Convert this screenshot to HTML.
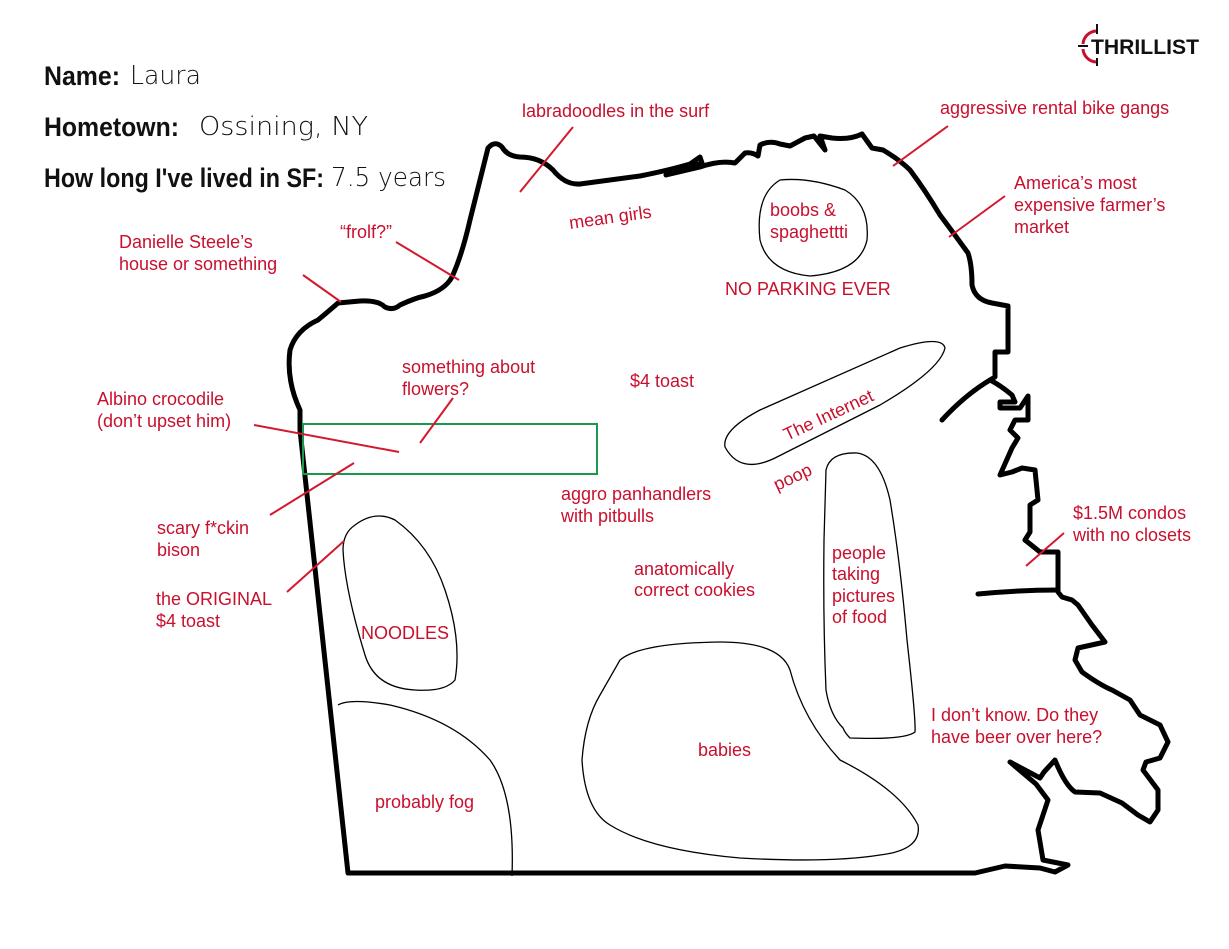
<!DOCTYPE html>
<html><head><meta charset="utf-8"><style>
html,body{margin:0;padding:0;background:#fff;}
svg{display:block}
.r{fill:#c8102e;font-family:"Liberation Sans",Arial,sans-serif;font-size:18px;}
.h{font-family:"Liberation Sans Narrow","Liberation Sans",sans-serif;font-weight:bold;font-size:27px;fill:#111;}
.v{font-family:"DejaVu Sans","Liberation Sans",sans-serif;font-size:26px;fill:#111;font-weight:200;}
.rl{stroke:#d4182e;stroke-width:2;fill:none}
.b{stroke:#000;stroke-width:1.3;fill:none}
</style></head><body>
<svg width="1229" height="949" viewBox="0 0 1229 949" xmlns="http://www.w3.org/2000/svg">
<rect width="1229" height="949" fill="#fff"/>
<!-- header -->
<text x="44" y="85" class="h" textLength="76" lengthAdjust="spacingAndGlyphs">Name:</text><text x="130" y="84" class="v" textLength="71" lengthAdjust="spacingAndGlyphs">Laura</text>
<text x="44" y="136" class="h" textLength="135" lengthAdjust="spacingAndGlyphs">Hometown:</text><text x="199" y="135" class="v" textLength="169" lengthAdjust="spacingAndGlyphs">Ossining, NY</text>
<text x="44" y="187" class="h" textLength="280" lengthAdjust="spacingAndGlyphs">How long I've lived in SF:</text><text x="331" y="186" class="v" textLength="115" lengthAdjust="spacingAndGlyphs">7.5 years</text>
<!-- logo -->
<g>
<path d="M1096,31 A14,14 0 0 0 1083,44" stroke="#c8102e" stroke-width="3" fill="none"/>
<path d="M1083,49 A14,14 0 0 0 1096,62" stroke="#c8102e" stroke-width="3" fill="none"/>
<line x1="1097" y1="24" x2="1097" y2="34" stroke="#111" stroke-width="2"/>
<line x1="1097" y1="58" x2="1097" y2="66" stroke="#111" stroke-width="2"/>
<line x1="1078" y1="46" x2="1088" y2="46" stroke="#111" stroke-width="2"/>
<text x="1091" y="54" font-family="Liberation Sans,Arial,sans-serif" font-weight="bold" font-size="21" fill="#111" textLength="108" lengthAdjust="spacingAndGlyphs">THRILLIST</text>
</g>
<!-- outline -->
<path fill="none" stroke="#000" stroke-width="5" stroke-linejoin="round" stroke-linecap="round" d="
M348,873 L300,430 L300,410 Q286,380 290,350 Q296,330 318,320 Q330,310 338,303 L360,301 Q378,300 385,307 Q393,311 400,305 Q415,298 425,296 Q445,290 452,277 Q462,255 470,220 Q480,180 488,148 Q495,140 502,147 Q507,156 520,157 Q540,157 553,170 Q565,185 580,184 L640,176 Q670,170 690,164 L700,157 L702,163 L666,175 L700,167 Q720,160 735,163 L745,153 Q752,152 758,156 L760,145 Q770,140 780,144 L790,146 L805,138 L814,136 L825,150 L820,136 L832,138 Q850,140 862,134 L872,148 L883,150 Q900,160 910,170 Q925,190 940,215 Q955,235 968,253 Q972,265 972,285 Q975,300 992,303 L1008,306 L1008,345 L1008,352 L995,352 L995,377 L990,380 Q1000,385 1012,395 L1015,402 L1000,402 L1000,408 L1020,408 L1028,396 L1028,420 L1015,420 L1010,430 L1018,438 L1012,448 L1000,475 L1012,472 L1022,468 L1035,470 L1038,500 L1030,505 L1030,532 L1025,540 L1040,552 L1058,552 L1058,592 L1062,597 L1072,600 L1078,605 L1092,625 L1105,642 L1078,648 L1075,660 L1082,672 Q1100,685 1112,690 L1130,700 L1140,715 L1160,725 L1168,742 L1160,758 L1146,762 L1143,770 L1158,790 L1158,810 L1150,822 L1138,815 L1122,803 L1100,793 L1075,792 Q1065,785 1055,760 L1044,772 L1040,778 L1010,762 L1036,784 L1048,800 L1038,830 L1043,860 L1068,865 L1055,872 L1040,868 L1005,866 L975,873 Z"/>
<path d="M942,420 Q965,395 990,380" stroke="#000" stroke-width="5" fill="none" stroke-linecap="round"/>
<path d="M978,594 Q1020,590 1058,590" stroke="#000" stroke-width="5" fill="none" stroke-linecap="round"/>
<!-- blobs -->
<path class="b" d="M780,180 Q810,177 845,190 Q870,205 867,240 Q860,272 810,276 Q768,272 760,240 Q755,195 780,180 Z"/>
<path class="b" d="M725,447 Q722,430 760,410 L900,348 Q942,335 945,348 Q940,370 880,405 L775,458 Q740,475 725,447 Z"/>
<path class="b" d="M826,470 Q830,452 857,453 Q880,456 890,500 Q900,560 907,640 Q916,720 915,732 Q905,740 850,738 Q845,733 843,728 Q830,715 826,690 Q823,620 824,540 Z"/>
<path class="b" d="M355,525 Q375,510 395,520 Q430,545 445,590 Q462,640 455,680 Q445,692 415,690 Q375,688 365,655 Q345,590 343,550 Q343,533 355,525 Z"/>
<path class="b" d="M338,705 Q350,698 390,705 Q455,720 490,760 Q515,795 512,876"/>
<path class="b" d="M620,660 Q640,643 720,642 Q780,642 790,670 Q803,720 840,760 Q900,790 918,825 Q922,850 880,855 Q830,863 740,858 Q650,850 610,825 Q585,810 582,760 Q585,720 600,695 Z"/>
<rect x="303" y="424" width="294" height="50" fill="none" stroke="#1a9850" stroke-width="2"/>
<!-- red lines -->
<line class="rl" x1="573" y1="127" x2="520" y2="192"/>
<line class="rl" x1="948" y1="126" x2="893" y2="166"/>
<line class="rl" x1="1005" y1="196" x2="949" y2="237"/>
<line class="rl" x1="396" y1="242" x2="459" y2="280"/>
<line class="rl" x1="303" y1="275" x2="341" y2="302"/>
<line class="rl" x1="453" y1="398" x2="420" y2="443"/>
<line class="rl" x1="254" y1="425" x2="399" y2="452"/>
<line class="rl" x1="270" y1="515" x2="354" y2="463"/>
<line class="rl" x1="287" y1="592" x2="344" y2="541"/>
<line class="rl" x1="1064" y1="533" x2="1026" y2="566"/>
<!-- labels -->
<text class="r" x="522" y="117">labradoodles in the surf</text>
<text class="r" x="940" y="114">aggressive rental bike gangs</text>
<text class="r" x="1014" y="189">America’s most</text>
<text class="r" x="1014" y="211">expensive farmer’s</text>
<text class="r" x="1014" y="233">market</text>
<text class="r" x="570" y="229" transform="rotate(-8 570 229)">mean girls</text>
<text class="r" x="770" y="216">boobs &amp;</text>
<text class="r" x="770" y="238">spaghettti</text>
<text class="r" x="725" y="295">NO PARKING EVER</text>
<text class="r" x="340" y="238">“frolf?”</text>
<text class="r" x="119" y="248">Danielle Steele’s</text>
<text class="r" x="119" y="270">house or something</text>
<text class="r" x="402" y="373">something about</text>
<text class="r" x="402" y="395">flowers?</text>
<text class="r" x="630" y="387">$4 toast</text>
<text class="r" x="97" y="405">Albino crocodile</text>
<text class="r" x="97" y="427">(don’t upset him)</text>
<text class="r" x="787" y="441" transform="rotate(-25 787 441)">The Internet</text>
<text class="r" x="777" y="491" transform="rotate(-25 777 491)">poop</text>
<text class="r" x="561" y="500">aggro panhandlers</text>
<text class="r" x="561" y="522">with pitbulls</text>
<text class="r" x="1073" y="519">$1.5M condos</text>
<text class="r" x="1073" y="541">with no closets</text>
<text class="r" x="157" y="534">scary f*ckin</text>
<text class="r" x="157" y="556">bison</text>
<text class="r" x="832" y="559">people</text>
<text class="r" x="832" y="580">taking</text>
<text class="r" x="832" y="602">pictures</text>
<text class="r" x="832" y="623">of food</text>
<text class="r" x="634" y="575">anatomically</text>
<text class="r" x="634" y="596">correct cookies</text>
<text class="r" x="156" y="605">the ORIGINAL</text>
<text class="r" x="156" y="627">$4 toast</text>
<text class="r" x="361" y="639">NOODLES</text>
<text class="r" x="931" y="721">I don’t know. Do they</text>
<text class="r" x="931" y="743">have beer over here?</text>
<text class="r" x="698" y="756">babies</text>
<text class="r" x="375" y="808">probably fog</text>
</svg>
</body></html>
